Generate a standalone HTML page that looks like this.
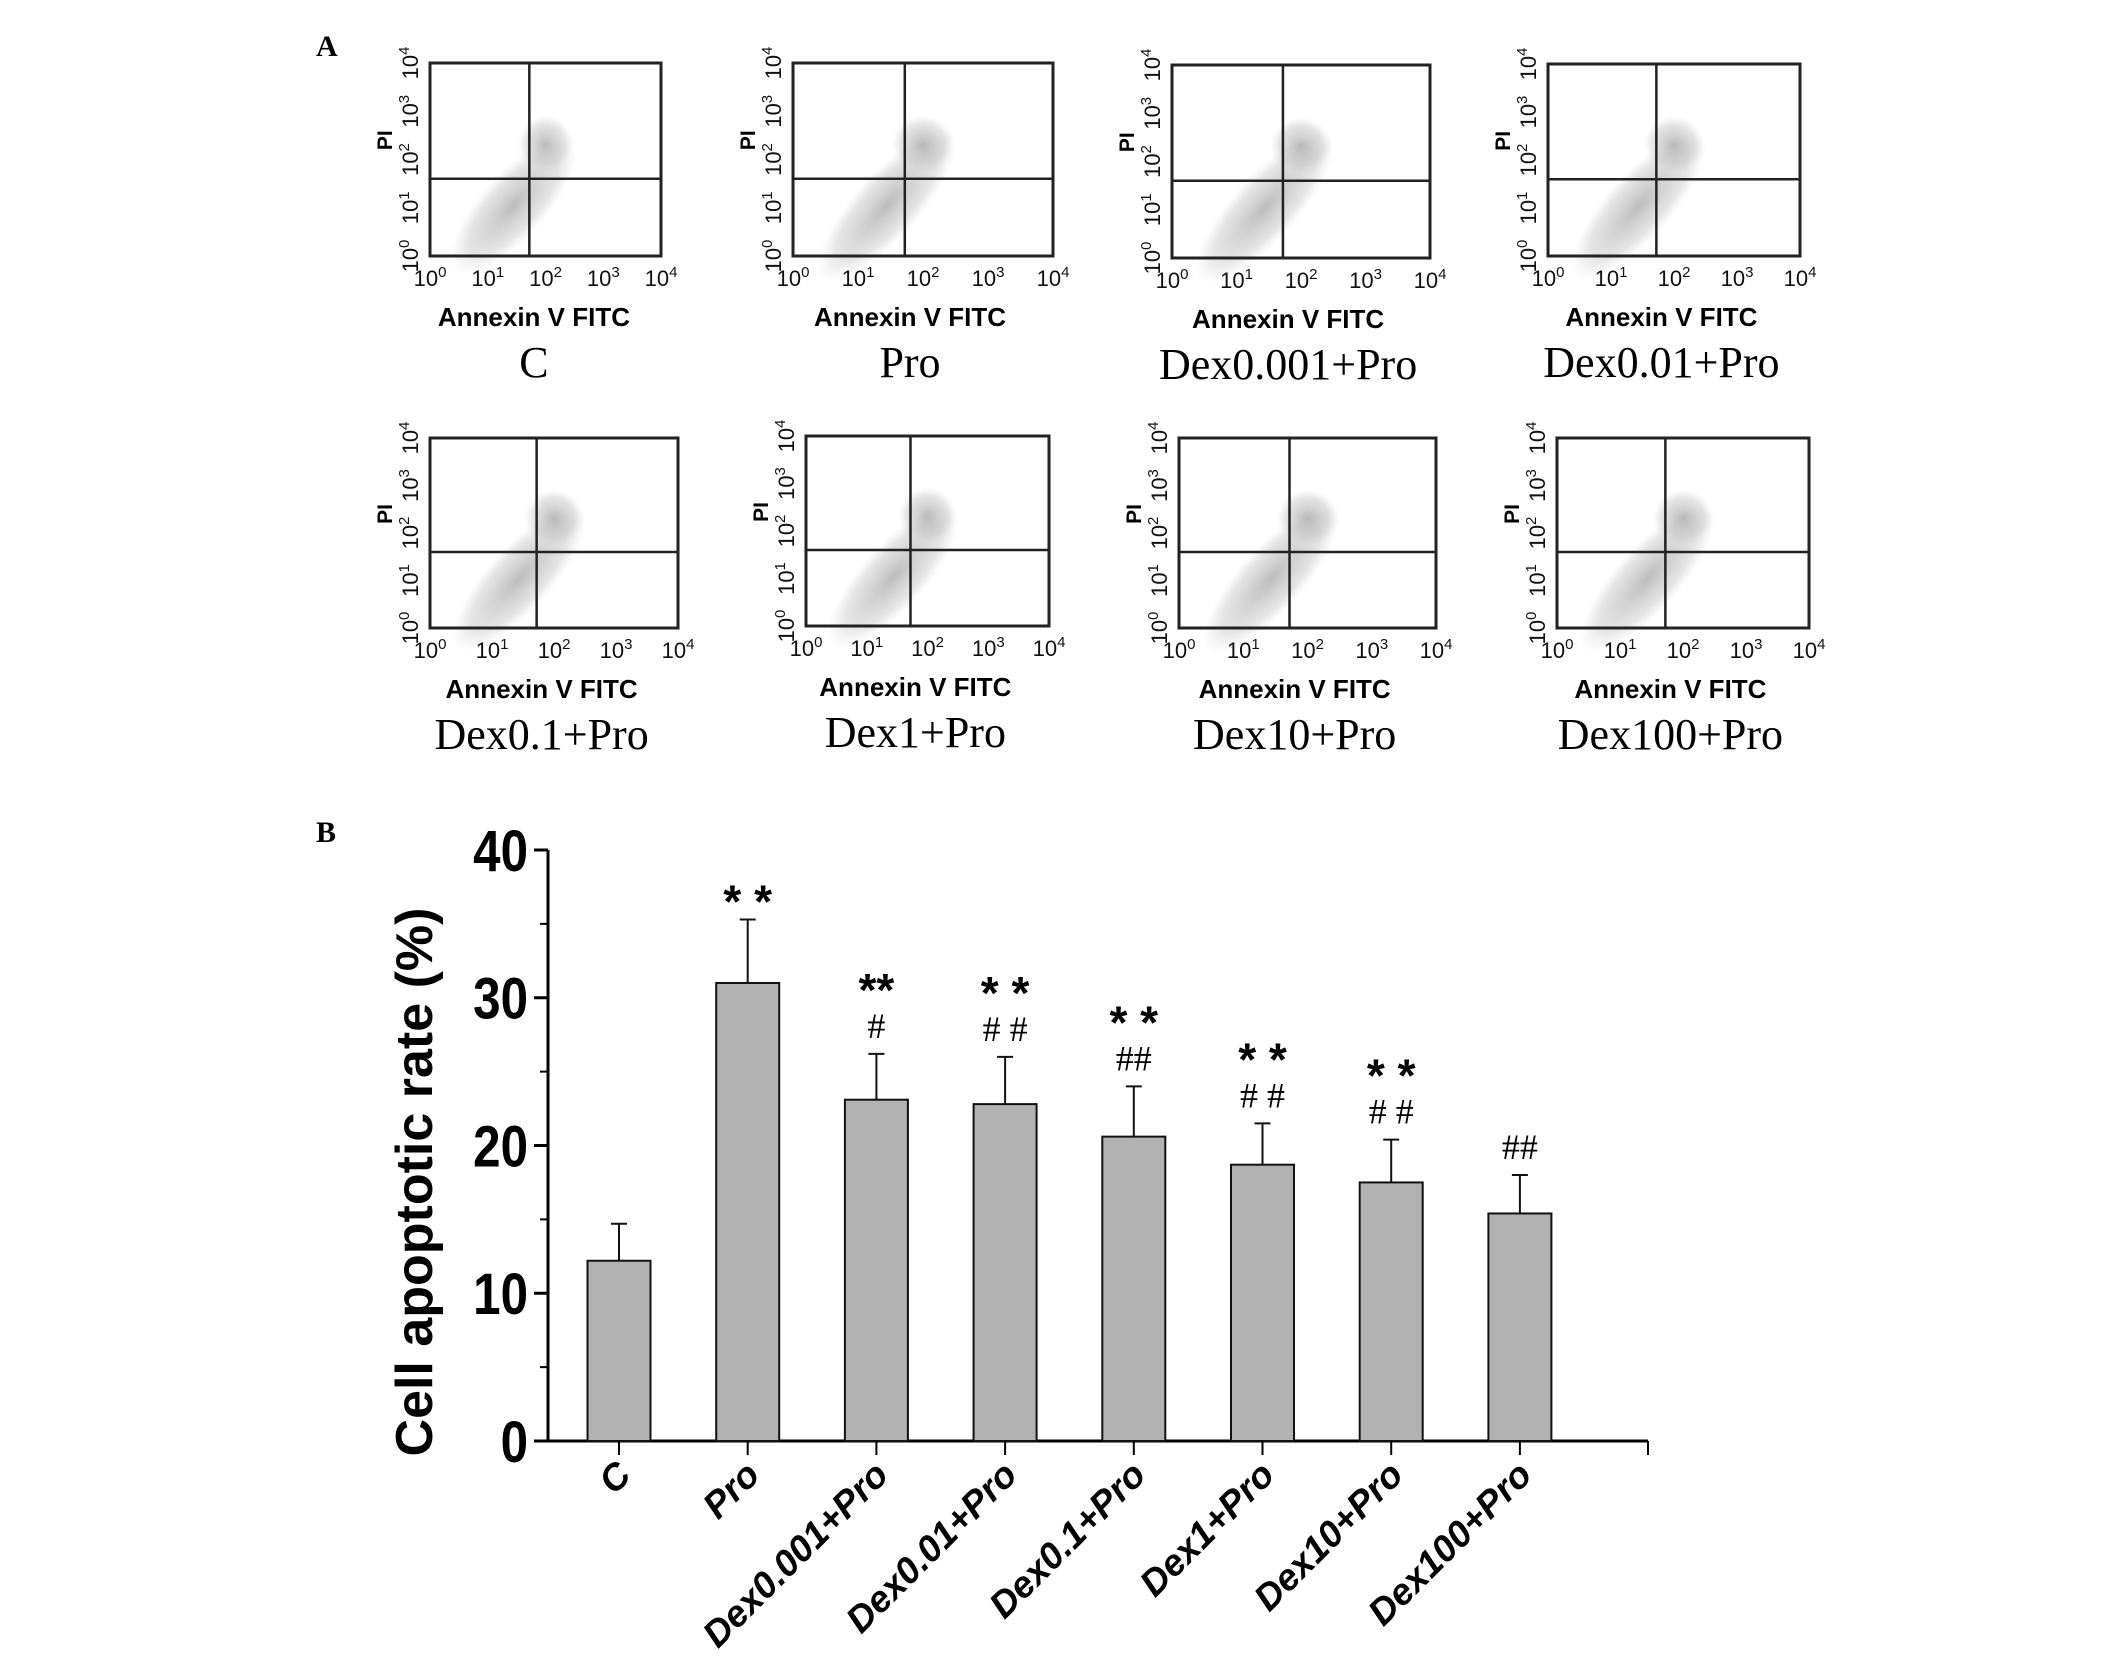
<!DOCTYPE html>
<html><head><meta charset="utf-8"><style>
body{margin:0;background:#fff;}
svg{display:block;}
</style></head><body>
<svg id="fig" width="2126" height="1666" viewBox="0 0 2126 1666" xmlns="http://www.w3.org/2000/svg">
<defs>
<radialGradient id="blob" cx="50%" cy="50%" r="50%">
<stop offset="0" stop-color="#a0a0a0" stop-opacity="0.7"/>
<stop offset="0.7" stop-color="#bdbdbd" stop-opacity="0.4"/>
<stop offset="1" stop-color="#d0d0d0" stop-opacity="0"/>
</radialGradient>
</defs>
<text x="316" y="56" font-family="Liberation Serif, serif" font-weight="bold" font-size="30">A</text>
<text x="316" y="842" font-family="Liberation Serif, serif" font-weight="bold" font-size="30">B</text>
<g id="flows"></g>
<g id="chart"></g>
</svg>
<script>
const NS='http://www.w3.org/2000/svg';
function mk(tag,attrs,parent,text){const e=document.createElementNS(NS,tag);for(const k in attrs)e.setAttribute(k,attrs[k]);if(text!==undefined)e.textContent=text;parent.appendChild(e);return e;}

// ---- Panel A flow plots ----
const flowNames=['C','Pro','Dex0.001+Pro','Dex0.01+Pro','Dex0.1+Pro','Dex1+Pro','Dex10+Pro','Dex100+Pro'];
const flowBoxes=[[430,63,231,193],[793,63,260,193],[1172,65,258,193],[1548,64,252,192],[430,438,248,190],[806,436,243,190],[1179,438,257,190],[1557,438,252,190]];
const flows=document.getElementById('flows');
flowBoxes.forEach((b,i)=>{
  const [x,y,w,h]=b;
  const g=mk('g',{},flows);
  
  
  mk('ellipse',{cx:x+w*0.36,cy:y+h*0.74,rx:w*0.38,ry:h*0.17,fill:'url(#blob)',transform:`rotate(-48 ${x+w*0.36} ${y+h*0.74})`},g);
  mk('ellipse',{cx:x+w*0.5,cy:y+h*0.42,rx:w*0.12,ry:h*0.15,fill:'url(#blob)'},g);
  mk('rect',{x:x,y:y,width:w,height:h,fill:'none',stroke:'#222','stroke-width':3},g);
  mk('line',{x1:x+w*0.43,x2:x+w*0.43,y1:y,y2:y+h,stroke:'#222','stroke-width':2.5},g);
  mk('line',{x1:x,x2:x+w,y1:y+h*0.6,y2:y+h*0.6,stroke:'#222','stroke-width':2.5},g);
  for(let k=0;k<5;k++){
    const tx=x+w*k/4, ty=y+h-h*k/4;
    const t=mk('text',{x:tx,y:y+h+30,'text-anchor':'middle','font-family':'Liberation Sans, sans-serif','font-size':22,fill:'#111'},g);
    t.innerHTML='10<tspan dy="-9" font-size="15">'+k+'</tspan>';
    const t2=mk('text',{x:x-12,y:ty,'text-anchor':'middle','font-family':'Liberation Sans, sans-serif','font-size':22,fill:'#111',transform:`rotate(-90 ${x-12} ${ty})`},g);
    t2.innerHTML='10<tspan dy="-9" font-size="15">'+k+'</tspan>';
  }
  const py=y+h*0.4;
  const pl=mk('text',{x:x-38,y:py,'text-anchor':'middle','font-family':'Liberation Sans, sans-serif','font-weight':'bold','font-size':21,transform:`rotate(-90 ${x-38} ${py})`},g,'PI');
  
  
  const ax=mk('text',{x:x+w*0.45,y:y+h+70,'text-anchor':'middle','font-family':'Liberation Sans, sans-serif','font-weight':'bold','font-size':26},g,'Annexin V FITC');
  
  
  const gl=mk('text',{x:x+w*0.45,y:y+h+121,'text-anchor':'middle','font-family':'Liberation Serif, serif','font-size':44},g,flowNames[i]);
  
  
});

// ---- Panel B bar chart ----
const categories=['C','Pro','Dex0.001+Pro','Dex0.01+Pro','Dex0.1+Pro','Dex1+Pro','Dex10+Pro','Dex100+Pro'];
const means=[12.2,31.0,23.1,22.8,20.6,18.7,17.5,15.4];
const errUpper=[14.7,35.3,26.2,26.0,24.0,21.5,20.4,18.0];
const starMarks=['','* *','**','* *','* *','* *','* *',''];
const hashMarks=['','','#','# #','##','# #','# #','##'];
const yTicks=[0,10,20,30,40];

const X0=548,X1=1648,Y0=1441,Y40=850;
const ys=v=>Y0-(v/40)*(Y0-Y40);
const xs=i=>619+i*128.7;
const chart=document.getElementById('chart');
const ax=mk('path',{d:`M${X0} ${Y40} V${Y0} H${X1}`,fill:'none',stroke:'#000','stroke-width':3},chart);


mk('line',{x1:X1,x2:X1,y1:Y0,y2:Y0+14,stroke:'#000','stroke-width':2},chart);
yTicks.forEach(v=>{
  mk('line',{x1:X0-14,x2:X0,y1:ys(v),y2:ys(v),stroke:'#000','stroke-width':3},chart);
  if(v<40) mk('line',{x1:X0-8,x2:X0,y1:ys(v+5),y2:ys(v+5),stroke:'#000','stroke-width':2},chart);
  const t=mk('text',{x:X0-20,y:ys(v)+21,'text-anchor':'end','font-family':'Liberation Sans, sans-serif','font-weight':'bold','font-size':58,transform:`translate(${(X0-20)*0.15} 0) scale(0.85 1)`},chart,String(v));
  
  
});
const yt=mk('text',{x:432,y:1182,'text-anchor':'middle','font-family':'Liberation Sans, sans-serif','font-weight':'bold','font-size':52,transform:'rotate(-90 432 1182)','xml:space':'preserve'},chart,'Cell apoptotic  rate (%)');


categories.forEach((c,i)=>{
  const cx=xs(i),bw=63;
  const bar=mk('rect',{x:cx-bw/2,y:ys(means[i]),width:bw,height:Y0-ys(means[i]),fill:'#b2b2b2',stroke:'#111','stroke-width':2},chart);
  
  
  const eb=mk('path',{d:`M${cx} ${ys(means[i])} V${ys(errUpper[i])} M${cx-8} ${ys(errUpper[i])} H${cx+8}`,stroke:'#111','stroke-width':2,fill:'none'},chart);
  
  
  mk('line',{x1:cx,x2:cx,y1:Y0,y2:Y0+14,stroke:'#000','stroke-width':2},chart);
  let top=ys(errUpper[i])-16;
  if(hashMarks[i]){const h=mk('text',{x:cx,y:top,'text-anchor':'middle','font-family':'Liberation Serif, serif','font-size':36},chart,hashMarks[i]);
    top-=46;}
  if(starMarks[i]){const s=mk('text',{x:cx,y:top+14,'text-anchor':'middle','font-family':'Liberation Sans, sans-serif','font-weight':'bold','font-size':46},chart,starMarks[i]);
    }
  const lx=cx+14,ly=Y0+36;
  const lab=mk('text',{x:lx,y:ly,'text-anchor':'end','font-family':'Liberation Sans, sans-serif','font-weight':'bold','font-style':'italic','font-size':37,transform:`rotate(-45 ${lx} ${ly})`},chart,c);
  
  
});
</script>
</body></html>
